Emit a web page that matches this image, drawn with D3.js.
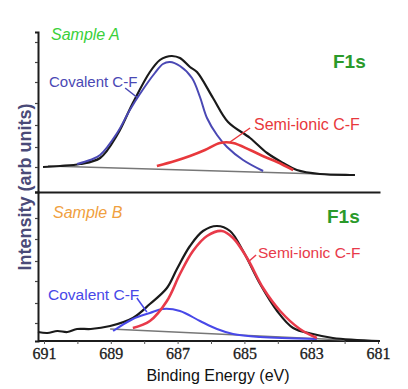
<!DOCTYPE html>
<html>
<head>
<meta charset="utf-8">
<script src="https://cdn.jsdelivr.net/npm/d3@7"></script>
<style>
  body { margin: 0; background: #fff; }
  svg { display: block; }
  text { font-family: "Liberation Sans", Arial, sans-serif; }
  .tick text { font-family: "Liberation Serif", "Times New Roman", serif; }
</style>
</head>
<body>
<svg width="408" height="389"></svg>
<script>
// binding energy (eV) vs intensity (arb units)
var tickLabels = [691, 689, 687, 685, 683, 681];

// Sample A
var aSpectrum = [[691.03,25],[690.52,26],[689.92,28],[689.32,34],[688.81,57],[688.34,89],[687.83,120],
  [687.53,132],[687.35,135],[687.17,136],[686.93,134],[686.63,125],[686.42,120],[685.94,94],[685.49,70],
  [684.83,54],[684.32,39],[683.84,29],[683.43,22],[682.74,18],[681.84,17],[681.69,17]];
var aCovalent = [[690.01,28],[689.62,32],[689.32,37],[688.81,59],[688.43,82],[688.13,98],[687.68,119],
  [687.44,128],[687.23,130],[686.93,126],[686.57,114],[686.33,95],[686.12,74],[685.82,57],[685.52,45],
  [685.04,32],[684.44,21]];
var aSemiIonic = [[687.62,26],[687.08,31],[686.63,36],[686.18,42],[685.73,49],[685.34,49],[684.83,42],
  [684.38,35],[684.02,30],[683.54,22]];
var aBaseline = [[690.88,26],[681.69,17]];

// Sample B
var bSpectrum = [[691.18,9],[690.9,8],[690.6,10],[690.3,9],[690.01,12],[689.6,12],[689.02,15],[688.34,23],
  [687.83,37],[687.32,53],[687.02,72],[686.63,95],[686.24,110],[685.82,115],[685.43,110],[685.04,90],
  [684.53,57],[684.02,30],[683.54,13],[682.95,7],[682.35,3],[680.94,0]];
var bCovalent = [[688.93,10],[688.34,22],[687.83,28],[687.44,32],[686.93,30],[686.33,20],[685.82,12],
  [685.34,7],[684.53,4],[682.83,2]];
var bSemiIonic = [[688.34,13],[687.83,20],[687.32,40],[686.93,67],[686.54,90],[686.12,105],[685.67,110],
  [685.34,103],[684.92,83],[684.44,53],[683.93,30],[683.34,12],[682.83,3]];
var bBaseline = [[689.02,12],[682.0,1]];

var topTicks = [25, 45, 67, 89, 110, 130, 150];
var bottomTicks = [18, 38, 60, 80, 102, 123];

var svg = d3.select("svg");

var x = d3.scaleLinear().domain([691, 681]).range([44, 378]);
var yA = d3.scaleLinear().domain([0, 160]).range([192, 32]);
var yB = d3.scaleLinear().domain([0, 149]).range([341, 192]);

function lineFor(y) {
    return d3.line()
        .x(function (d) { return x(d[0]); })
        .y(function (d) { return y(d[1]); })
        .curve(d3.curveCatmullRom.alpha(0.5));
}

// axes
var axisColor = "#1c1c1c";
var gA = svg.append("g").attr("transform", "translate(38,0)")
    .call(d3.axisLeft(yA).tickValues(topTicks).tickSize(3).tickFormat(""));
var gB = svg.append("g").attr("transform", "translate(38,0)")
    .call(d3.axisLeft(yB).tickValues(bottomTicks).tickSize(3).tickFormat(""));
[gA, gB].forEach(function (g) {
    g.select(".domain").attr("stroke", axisColor).attr("stroke-width", 2);
    g.selectAll(".tick line").attr("stroke", "#444").attr("stroke-width", 1.2);
});

// top panel bottom line
svg.append("g").attr("transform", "translate(0,192)")
    .call(d3.axisBottom(x.copy().range([38, 380])).tickValues([]).tickSizeOuter(0))
    .select(".domain").attr("stroke", axisColor).attr("stroke-width", 1.8);

// bottom energy axis
var xAxis = svg.append("g").attr("transform", "translate(0,341)")
    .call(d3.axisBottom(x).tickValues(d3.range(681, 692)).tickSize(3).tickSizeOuter(0)
        .tickFormat(function (d) { return tickLabels.indexOf(d) >= 0 ? d : ""; }));
xAxis.select(".domain").attr("d", "M38,0H380").attr("stroke", axisColor).attr("stroke-width", 1.8);
xAxis.selectAll(".tick line").attr("stroke", "#555");
xAxis.selectAll(".tick text")
    .attr("y", 18).attr("dy", null)
    .attr("font-size", 16).attr("fill", "#1a1a1a")
    .attr("stroke", "#1a1a1a").attr("stroke-width", 0.3);

// curves
function drawPanel(y, base, spectrum, cov, semi, covColor, semiColor) {
    svg.append("path").datum(base).attr("d", lineFor(y))
        .attr("fill", "none").attr("stroke", "#777").attr("stroke-width", 1.6);
    svg.append("path").datum(spectrum).attr("d", lineFor(y))
        .attr("fill", "none").attr("stroke", "#1a1a1a").attr("stroke-width", 2.2);
    svg.append("path").datum(cov).attr("d", lineFor(y))
        .attr("fill", "none").attr("stroke", covColor).attr("stroke-width", 2);
    svg.append("path").datum(semi).attr("d", lineFor(y))
        .attr("fill", "none").attr("stroke", semiColor).attr("stroke-width", 2.6);
}
drawPanel(yA, aBaseline, aSpectrum, aCovalent, aSemiIonic, "#4a48b4", "#e8383c");
drawPanel(yB, bBaseline, bSpectrum, bCovalent, bSemiIonic, "#4848e8", "#e83a4a");

// labels + leader lines (energy, intensity)
function leader(y, from, to, color) {
    svg.append("line")
        .attr("x1", x(from[0])).attr("y1", y(from[1]))
        .attr("x2", x(to[0])).attr("y2", y(to[1]))
        .attr("stroke", color).attr("stroke-width", 1.5);
}
function label(txt, px, py, size, color, extra) {
    var t = svg.append("text").attr("x", px).attr("y", py)
        .attr("font-size", size).attr("fill", color).text(txt);
    if (extra) extra(t);
    return t;
}

leader(yA, [688.57, 104], [688.19, 94], "#4a48b4");
leader(yA, [685.43, 50], [684.83, 64], "#e8383c");
leader(yB, [688.22, 43], [687.92, 29], "#4848e8");
leader(yB, [684.89, 79], [684.65, 86], "#e83a4a");

label("Covalent C-F", 49, 87, 15, "#4a48b4");
label("Semi-ionic C-F", 254, 130, 16, "#e8383c");
label("Covalent C-F", 48, 300, 15.5, "#4848e8");
label("Semi-ionic C-F", 258, 258, 15.5, "#e83a4a");

label("Sample A", 51, 40, 16, "#3ad03a", function (t) { t.attr("font-style", "italic"); });
label("Sample B", 53, 218, 16, "#f0a040", function (t) { t.attr("font-style", "italic"); });
label("F1s", 333, 68, 19, "#2a9a2a", function (t) { t.attr("font-weight", "bold"); });
label("F1s", 327, 223, 19, "#2a9a2a", function (t) { t.attr("font-weight", "bold"); });

label("Binding Energy (eV)", 218, 381, 16, "#111", function (t) { t.attr("text-anchor", "middle"); });
label("Intensity (arb units)", 0, 0, 18, "#4a4a78", function (t) {
    t.attr("font-weight", "bold").attr("text-anchor", "middle")
        .attr("transform", "translate(31,187) rotate(-90)");
});
</script>
</body>
</html>
